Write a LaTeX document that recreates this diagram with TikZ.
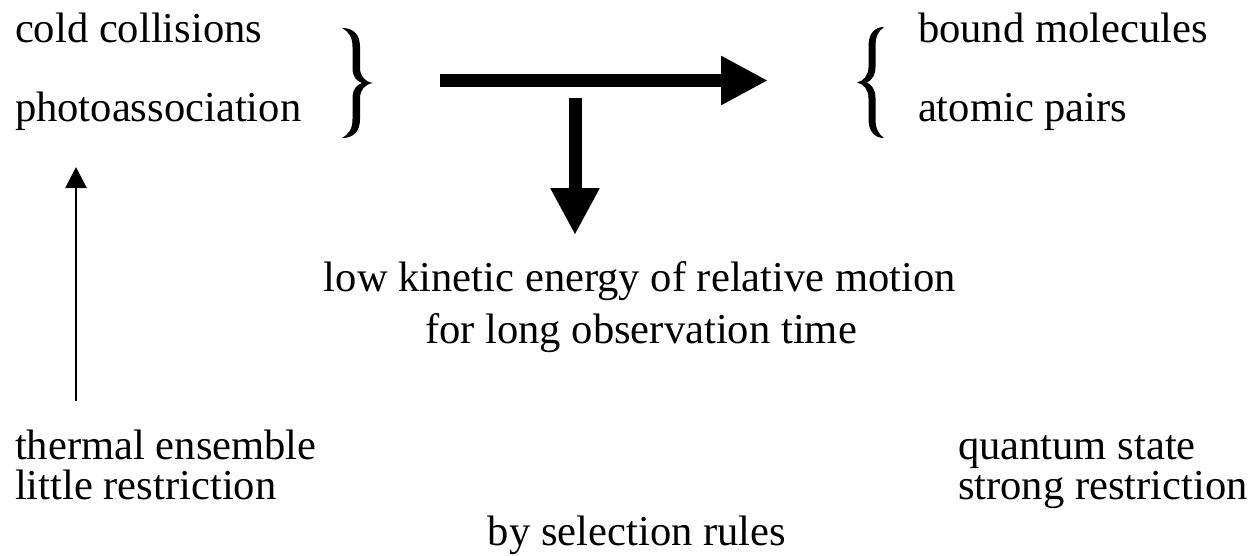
\documentclass[tikz,border=0pt]{standalone}
\usepackage{fontspec}
\setmainfont{Liberation Serif}
\usetikzlibrary{arrows.meta}

\begin{document}
\begin{tikzpicture}[x=0.5pt,y=-0.5pt,
    lbl/.style={inner sep=0pt, outer sep=0pt, font=\fontsize{21.3}{24}\selectfont},
    fatarrow/.style={line width=6.5pt, -{Triangle[length=23.5pt,width=23pt]}},
    thinarrow/.style={line width=1.4pt, -{Triangle[length=10.5pt,width=10.5pt]}},
    bracefill/.style={fill=black, draw=none}]
  \useasboundingbox (0,0) rectangle (1257,556);

  % left group
  \node[lbl, anchor=base west] (cold)  at (15,43)  {cold collisions};
  \node[lbl, anchor=base west] (photo) at (15,121) {photoassociation};

  % right group
  \node[lbl, anchor=base west] (bound)  at (918,43)  {bound molecules};
  \node[lbl, anchor=base west] (atomic) at (918,121) {atomic pairs};

  % middle text
  \node[lbl, anchor=base] (low) at (640,291) {low kinetic energy of relative motion};
  \node[lbl, anchor=base] (obs) at (641,343) {for long observation time};

  % bottom rows
  \node[lbl, anchor=base west] (thermal) at (15,459)  {thermal ensemble};
  \node[lbl, anchor=base west] (little)  at (15,499)  {little restriction};
  \node[lbl, anchor=base west] (quantum) at (958,459) {quantum state};
  \node[lbl, anchor=base west] (strong)  at (958,499) {strong restriction};
  \node[lbl, anchor=base] (rules) at (637,545) {by selection rules};

  % closing brace after the left group
  \begin{scope}[shift={(342,28)}]
    \path[bracefill] (0,0) .. controls (11,0) and (18,6) .. (18,19) -- (18,40)
      .. controls (18,48) and (23,54) .. (31,55)
      .. controls (23,56) and (18,62) .. (18,70) -- (18,91)
      .. controls (18,104) and (11,110) .. (0,110)
      .. controls (7,106) and (10.5,101) .. (10.5,91) -- (10.5,70)
      .. controls (10.5,62) and (14,57) .. (20,55)
      .. controls (14,53) and (10.5,48) .. (10.5,40) -- (10.5,19)
      .. controls (10.5,9) and (7,4) .. (0,0) -- cycle;
  \end{scope}

  % opening brace before the right group
  \begin{scope}[shift={(884,27)}, xscale=-1]
    \path[bracefill] (0,0) .. controls (9,0) and (15.5,6) .. (15.5,19) -- (15.5,40)
      .. controls (15.5,48) and (20,54) .. (27,55.5)
      .. controls (20,57) and (15.5,63) .. (15.5,71) -- (15.5,92)
      .. controls (15.5,105) and (9,111) .. (0,111)
      .. controls (5.5,107) and (8.5,102) .. (8.5,92) -- (8.5,71)
      .. controls (8.5,63) and (12,58) .. (17,55.5)
      .. controls (12,53) and (8.5,48) .. (8.5,40) -- (8.5,19)
      .. controls (8.5,9) and (5.5,4) .. (0,0) -- cycle;
  \end{scope}

  % arrows
  \coordinate (hstart) at (440,80.5);
  \coordinate (hend)   at (768,80.5);
  \coordinate (vstart) at (575,98);
  \coordinate (vend)   at (575,235);
  \coordinate (tbase)  at (76,401);
  \coordinate (ttip)   at (76,167);

  \draw[fatarrow] (hstart) -- (hend);
  \draw[fatarrow] (vstart) -- (vend);
  \draw[thinarrow] (tbase) -- (ttip);
\end{tikzpicture}
\end{document}
